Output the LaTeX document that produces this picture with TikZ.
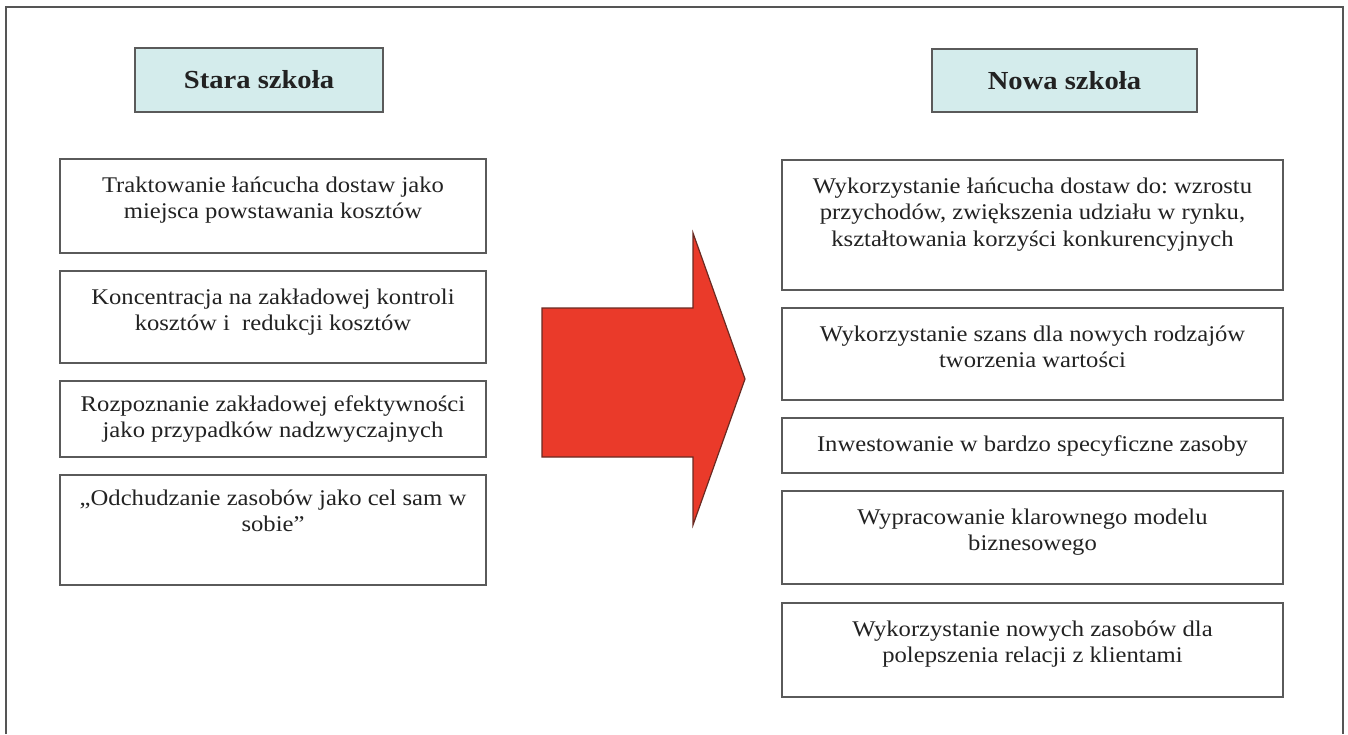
\documentclass[tikz,border=0pt]{standalone}
\usepackage{fontspec}
\setmainfont{Liberation Serif}[FakeStretch=1.1]
\frenchspacing
\definecolor{boxgray}{HTML}{5A5A5A}
\definecolor{headfill}{HTML}{D4ECEC}
\definecolor{arrowred}{HTML}{EA3A2A}
\definecolor{arrowedge}{HTML}{6A2A22}
\definecolor{textcol}{HTML}{222222}
\definecolor{framecol}{HTML}{555555}
\tikzset{
  box/.style={draw=boxgray, line width=1.6pt, fill=white, rectangle, inner sep=0pt},
  headbox/.style={box, fill=headfill, font=\bfseries\fontsize{26}{29}\selectfont, text=textcol},
  txt/.style={inner sep=0pt, align=center, anchor=north, text=textcol, font=\fontsize{22.4}{26.2}\selectfont},
  lbox/.style={box, minimum width=426pt},
  rbox/.style={box, minimum width=501pt},
}
\begin{document}
\begin{tikzpicture}[x=1pt,y=-1pt]
\useasboundingbox (0,0) rectangle (1348,734);
\fill[white] (0,0) rectangle (1348,734);
\draw[framecol, line width=1.6pt] (6,734) -- (6,7) -- (1343,7) -- (1343,734);

% headers
\node[headbox, minimum width=248pt, minimum height=64pt] (hl) at (259,80) {Stara szkoła};
\node[headbox, minimum width=265pt, minimum height=63pt] (hr) at (1064.5,80.5) {Nowa szkoła};

% left boxes
\node[lbox, minimum height=94pt] (l1) at (273,206) {};
\node[lbox, minimum height=92pt] (l2) at (273,317) {};
\node[lbox, minimum height=76pt] (l3) at (273,419) {};
\node[lbox, minimum height=110pt] (l4) at (273,530) {};

\node[txt] (l1t) at ([yshift=-16pt]l1.north) {\strut Traktowanie łańcucha dostaw jako\\miejsca powstawania kosztów};
\node[txt] (l2t) at ([yshift=-16pt]l2.north) {\strut Koncentracja na zakładowej kontroli\\kosztów i \ redukcji kosztów};
\node[txt] (l3t) at ([yshift=-13pt]l3.north) {\strut Rozpoznanie zakładowej efektywności\\jako przypadków nadzwyczajnych};
\node[txt] (l4t) at ([yshift=-12.5pt]l4.north) {\strut „Odchudzanie zasobów jako cel sam w\\sobie”};

% right boxes
\node[rbox, minimum height=130pt] (r1) at (1032.5,225) {};
\node[rbox, minimum height=92pt] (r2) at (1032.5,354) {};
\node[rbox, minimum height=55pt] (r3) at (1032.5,445.5) {};
\node[rbox, minimum height=93pt] (r4) at (1032.5,537.5) {};
\node[rbox, minimum height=94pt] (r5) at (1032.5,650) {};

\node[txt] (r1t) at ([yshift=-16pt]r1.north) {\strut Wykorzystanie łańcucha dostaw do: wzrostu\\przychodów, zwiększenia udziału w rynku,\\kształtowania korzyści konkurencyjnych};
\node[txt] (r2t) at ([yshift=-16pt]r2.north) {\strut Wykorzystanie szans dla nowych rodzajów\\tworzenia wartości};
\node[txt] (r3t) at ([yshift=-16pt]r3.north) {\strut Inwestowanie w bardzo specyficzne zasoby};
\node[txt] (r4t) at ([yshift=-16pt]r4.north) {\strut Wypracowanie klarownego modelu\\biznesowego};
\node[txt] (r5t) at ([yshift=-16pt]r5.north) {\strut Wykorzystanie nowych zasobów dla\\polepszenia relacji z klientami};

% big arrow
\draw[fill=arrowred, draw=arrowedge, line width=1.2pt, line join=miter]
  (542,308) -- (693,308) -- (693,233) -- (745,379) -- (693,525) -- (693,457) -- (542,457) -- cycle;
\end{tikzpicture}
\end{document}
